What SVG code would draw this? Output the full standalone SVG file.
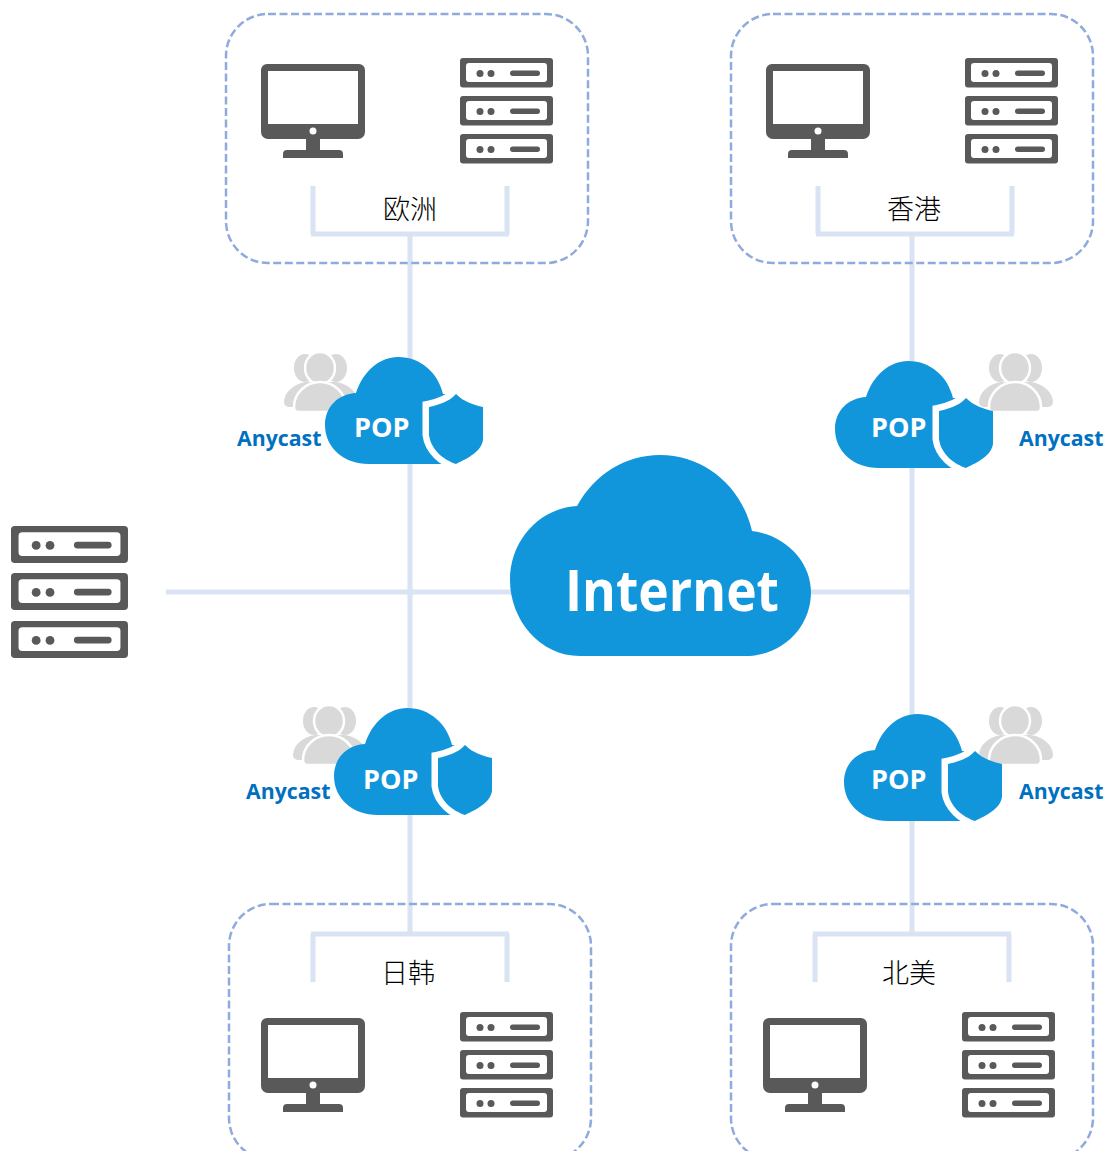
<svg xmlns="http://www.w3.org/2000/svg" width="1109" height="1151" viewBox="0 0 1109 1151">
<style>
.box{fill:none;stroke:#8faadc;stroke-width:2.5;stroke-dasharray:8 3.500}
.wire{fill:none;stroke:#dae3f3;stroke-width:5}
.dk{fill:#595959}
.ug{fill:#d9d9d9}
.lbl{font-family:"Noto Sans CJK SC",sans-serif;font-size:27px;font-weight:300;fill:#000;text-anchor:middle}
.any{font-family:"Open Sans","Noto Sans",sans-serif;font-weight:700;font-size:21.300px;fill:#0070c0}
.pop{font-family:"Open Sans","Noto Sans",sans-serif;font-weight:700;font-size:27px;fill:#fff}
.net{font-family:"Open Sans","Noto Sans",sans-serif;font-weight:700;font-size:57px;fill:#fff}
</style>
<defs>
<g id="monitor">
<path class="dk" fill-rule="evenodd" d="M6 0H98a6 6 0 0 1 6 6V68a7 7 0 0 1-7 7H59V86H78a4 4 0 0 1 4 4V94H22V90a4 4 0 0 1 4-4H45V75H7a7 7 0 0 1-7-7V6a6 6 0 0 1 6-6ZM7 7V60H97V7Z"/>
<circle cx="52" cy="67" r="3.500" fill="#fff"/>
</g>
<g id="unit">
<path class="dk" fill-rule="evenodd" d="M3 0H90a3 3 0 0 1 3 3V26.500a3 3 0 0 1-3 3H3a3 3 0 0 1-3-3V3a3 3 0 0 1 3-3ZM9 5a3 3 0 0 0-3 3V21a3 3 0 0 0 3 3H84a3 3 0 0 0 3-3V8a3 3 0 0 0-3-3Z"/>
<circle cx="20" cy="15.500" r="3.500" class="dk"/><circle cx="31" cy="15.500" r="3.500" class="dk"/>
<rect x="50" y="12.500" width="30" height="5.500" rx="2.750" class="dk"/>
</g>
<g id="server">
<use href="#unit"/><use href="#unit" y="38"/><use href="#unit" y="76"/>
</g>
<g id="users">
<ellipse cx="21" cy="16" rx="11" ry="14" class="ug"/>
<ellipse cx="52" cy="16" rx="11" ry="14" class="ug"/>
<path d="M0 50C0 41 9 32 22 30H52C65 32 74 41 74 50A5 5 0 0 1 69 55H5A5 5 0 0 1 0 50Z" class="ug"/>
<ellipse cx="36" cy="16" rx="15" ry="16" class="ug" stroke="#fff" stroke-width="2.500"/>
<path d="M10 55C10 41 22 30 36 30C50 30 62 41 62 55C62 58 60 60 58 60H14C12 60 10 58 10 55Z" class="ug" stroke="#fff" stroke-width="2.500"/>
</g>
<path id="popcloud" d="M31 36C38 14 55 0 73 0C96 0 113 16 118 37L125 37V107H44C18 107 0 90 0 68C0 50 13 37 31 36Z" fill="#1296db"/>
<g id="shield">
<path d="M31 0C24 8 13 11 4 13V41C6 56 19 66 31 70" fill="none" stroke="#fff" stroke-width="13"/>
<path d="M31 0C39 8 49 11 58 13V46C56 58 43 64 31 70C19 66 6 56 4 41V13C13 11 24 8 31 0Z" fill="#1296db"/>
</g>
</defs>
<g id="connectors">
<path class="wire" d="M313 186V234M507 186V234M311 234H509M410 234V934M818 186V234M1012 186V234M816 234H1014M912 234V934M166 592H912M313 982V934M507 982V934M311 934H509M815 982V934M1009 982V934M813 934H1011"/>
</g>
<g id="region-eu">
<rect class="box" x="226" y="14" width="362" height="249" rx="42"/>
<use href="#monitor" x="261" y="64"/><use href="#server" x="460" y="58"/>
<text class="lbl" x="410" y="219">欧洲</text>
</g>
<g id="region-hk">
<rect class="box" x="731" y="14" width="362" height="249" rx="42"/>
<use href="#monitor" x="766" y="64"/><use href="#server" x="965" y="58"/>
<text class="lbl" x="914" y="219">香港</text>
</g>
<g id="region-jk">
<rect class="box" x="229" y="904" width="362" height="256" rx="42"/>
<use href="#monitor" x="261" y="1018"/><use href="#server" x="460" y="1012"/>
<text class="lbl" x="408" y="983">日韩</text>
</g>
<g id="region-na">
<rect class="box" x="731" y="904" width="362" height="256" rx="42"/>
<use href="#monitor" x="763" y="1018"/><use href="#server" x="962" y="1012"/>
<text class="lbl" x="909" y="983">北美</text>
</g>
<g id="origin-server">
<use href="#unit" transform="translate(11 526) scale(1.258 1.25)"/>
<use href="#unit" transform="translate(11 573) scale(1.258 1.25)"/>
<use href="#unit" transform="translate(11 621) scale(1.258 1.25)"/>
</g>
<g id="internet">
<path d="M577 506C595 474 625 455 660 455C705 455 742 487 752 531C786 535 811 562 811 592C811 628 782 656 745 656H580C540 656 510 620 510 580C510 540 540 508 577 506Z" fill="#1296db"/>
<text class="net" x="565" y="611" textLength="214" lengthAdjust="spacingAndGlyphs">Internet</text>
</g>
<g id="pop-eu">
<use href="#users" x="284" y="352"/>
<use href="#popcloud" x="325" y="357"/>
<use href="#shield" x="425" y="394"/>
<text class="pop" x="354" y="437">POP</text>
<text class="any" x="237" y="446">Anycast</text>
</g>
<g id="pop-hk">
<use href="#users" x="979" y="352"/>
<use href="#popcloud" x="835" y="361"/>
<use href="#shield" x="935" y="398"/>
<text class="pop" x="871" y="437">POP</text>
<text class="any" x="1019" y="446">Anycast</text>
</g>
<g id="pop-jk">
<use href="#users" x="293" y="705"/>
<use href="#popcloud" x="334" y="708"/>
<use href="#shield" x="434" y="745"/>
<text class="pop" x="363" y="789">POP</text>
<text class="any" x="246" y="799">Anycast</text>
</g>
<g id="pop-na">
<use href="#users" x="979" y="705"/>
<use href="#popcloud" x="844" y="714"/>
<use href="#shield" x="944" y="751"/>
<text class="pop" x="871" y="789">POP</text>
<text class="any" x="1019" y="799">Anycast</text>
</g>
</svg>
